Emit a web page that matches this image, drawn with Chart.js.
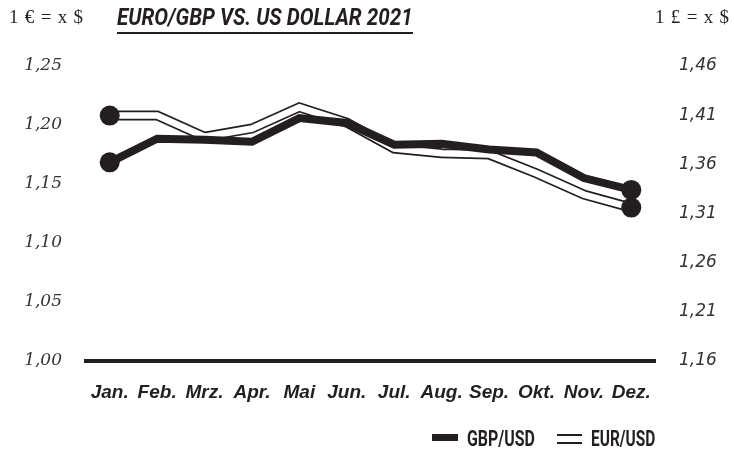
<!DOCTYPE html>
<html lang="de">
<head>
<meta charset="utf-8">
<title>Euro/GBP vs. US Dollar 2021</title>
<script src="https://cdn.jsdelivr.net/npm/chart.js@4/dist/chart.umd.min.js"></script>
<style>
    html, body { margin: 0; padding: 0; background: #fff; }
    #wrap { position: relative; width: 734px; height: 449px; overflow: hidden; }
    #chart { position: absolute; left: 0; top: 0; }
    .unit { position: absolute; top: 6px; font: 19px 'Liberation Serif', serif; letter-spacing: 0.8px; color: #231f20; white-space: nowrap; }
    #title {
        position: absolute; left: 117px; top: 4px; white-space: nowrap;
        font: italic bold 23px Roboto, sans-serif; color: #231f20;
        transform-origin: 0 0; border-bottom: 2px solid #231f20; line-height: 28px;
    }
    .leg { position: absolute; top: 428px; font: bold 22px Roboto, sans-serif; line-height: 22px; color: #231f20; white-space: nowrap; transform-origin: 0 0; }
    .bar { position: absolute; background: #231f20; }
</style>
</head>
<body>
<div id="wrap">
    <canvas id="chart" width="734" height="449"></canvas>
    <div class="unit" style="left:9px">1 € = x $</div>
    <div class="unit" style="left:655px">1 £ = x $</div>
    <div id="title">EURO/GBP VS. US DOLLAR 2021</div>

    <!-- legend -->
    <div class="bar" style="left:432px; top:434px; width:26px; height:7px"></div>
    <div class="leg" data-w="68" style="left:467px">GBP/USD</div>
    <div class="bar" style="left:557px; top:434px; width:25px; height:1.6px"></div>
    <div class="bar" style="left:557px; top:442px; width:25px; height:1.6px"></div>
    <div class="leg" data-w="64" style="left:591px">EUR/USD</div>
</div>

<script>
// monthly averages 2021
const months = ['Jan.', 'Feb.', 'Mrz.', 'Apr.', 'Mai', 'Jun.', 'Jul.', 'Aug.', 'Sep.', 'Okt.', 'Nov.', 'Dez.'];
const gbpUsd = [1.362, 1.386, 1.385, 1.383, 1.407, 1.402, 1.380, 1.381, 1.375, 1.372, 1.346, 1.334];
const eurUsd = [1.208, 1.208, 1.190, 1.197, 1.215, 1.202, 1.180, 1.176, 1.175, 1.159, 1.141, 1.130];

// tick labels on both sides
const eurTicks = [1.00, 1.05, 1.10, 1.15, 1.20, 1.25];
const gbpTicks = [1.16, 1.21, 1.26, 1.31, 1.36, 1.41, 1.46];

const ink = '#231f20';
const fmt = v => v.toFixed(2).replace('.', ',');

// end points get a dot, the rest none
const ends = n => Array.from({ length: n }, (_, i) => (i === 0 || i === n - 1) ? 10 : 0);

// squeeze the heading and legend text to a condensed width
const titleEl = document.getElementById('title');
titleEl.style.transform = 'scaleX(' + (296 / titleEl.offsetWidth) + ')';
document.querySelectorAll('.leg').forEach(el => {
    el.style.transform = 'scaleX(' + (el.dataset.w / el.offsetWidth) + ')';
});

new Chart(document.getElementById('chart'), {
    type: 'line',
    data: {
        labels: months,
        datasets: [
            {
                // outer edges of the EUR double line
                label: 'EUR/USD',
                data: eurUsd,
                yAxisID: 'yEur',
                borderColor: ink,
                borderWidth: 10,
                pointRadius: 0,
                order: 3
            },
            {
                // white core of the EUR double line
                label: 'EUR/USD core',
                data: eurUsd,
                yAxisID: 'yEur',
                borderColor: '#fff',
                borderWidth: 6.6,
                pointRadius: ends(eurUsd.length),
                pointBackgroundColor: ink,
                pointBorderWidth: 0,
                order: 2
            },
            {
                label: 'GBP/USD',
                data: gbpUsd,
                yAxisID: 'yGbp',
                borderColor: ink,
                borderWidth: 8,
                pointRadius: ends(gbpUsd.length),
                pointBackgroundColor: ink,
                pointBorderWidth: 0,
                order: 1
            }
        ]
    },
    options: {
        responsive: false,
        animation: false,
        layout: { padding: { top: 66, left: 0, right: 0, bottom: 0 } },
        plugins: { legend: { display: false }, tooltip: { enabled: false } },
        scales: {
            x: {
                offset: true,
                grid: { display: false },
                border: { display: true, width: 4, color: ink },
                ticks: {
                    color: ink,
                    padding: 12,
                    maxRotation: 0,
                    autoSkip: false,
                    font: { family: "'Liberation Sans', Arial, sans-serif", style: 'italic', weight: 'bold', size: 19 }
                },
                afterFit: s => { s.height = 88; }
            },
            yEur: {
                position: 'left',
                min: 1.00,
                max: 1.25,
                grid: { display: false },
                border: { display: false },
                afterBuildTicks: s => { s.ticks = eurTicks.map(v => ({ value: v })); },
                ticks: {
                    color: '#333',
                    padding: 16,
                    callback: v => fmt(v),
                    font: { family: "'DejaVu Serif', serif", style: 'italic', size: 17 }
                },
                afterFit: s => { s.width = 86; }
            },
            yGbp: {
                position: 'right',
                min: 1.16,
                max: 1.46,
                grid: { display: false },
                border: { display: false },
                afterBuildTicks: s => { s.ticks = gbpTicks.map(v => ({ value: v })); },
                ticks: {
                    color: '#333',
                    padding: 16,
                    callback: v => fmt(v),
                    font: { family: "'DejaVu Sans', sans-serif", style: 'italic', size: 17 }
                },
                afterFit: s => { s.width = 79; }
            }
        }
    }
});
</script>
</body>
</html>
